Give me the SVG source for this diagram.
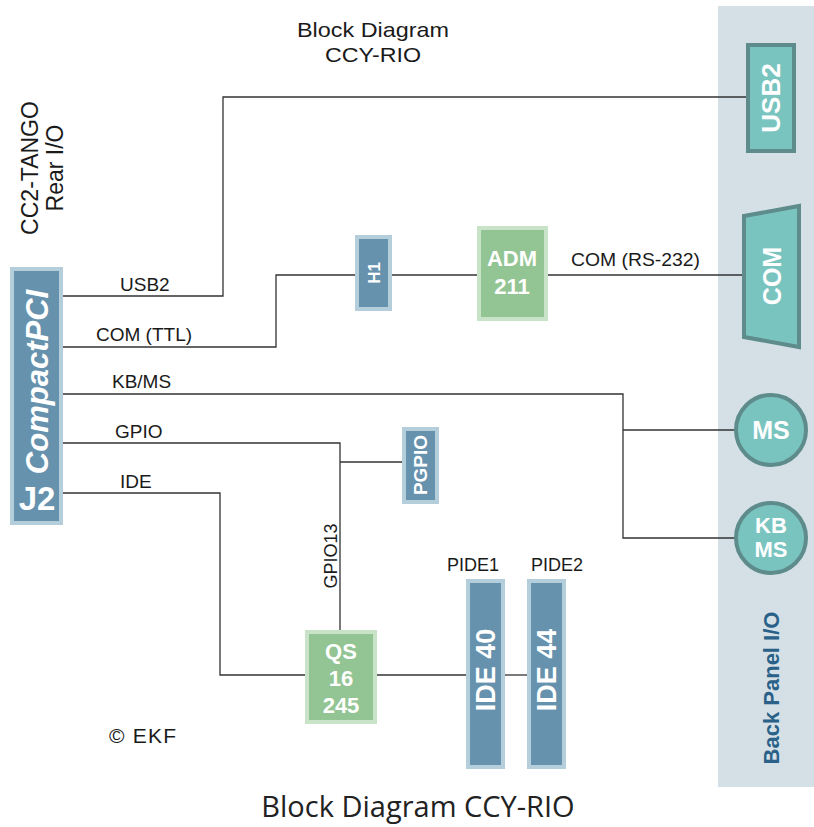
<svg xmlns="http://www.w3.org/2000/svg" width="814" height="827" viewBox="0 0 814 827">
<style>
.ln{fill:none;stroke:#333;stroke-width:1.3}
.lbl{font-family:"Liberation Sans",Arial,sans-serif;font-size:19px;fill:#1a1a1a}
.nar{font-family:"Liberation Sans",Arial,sans-serif;fill:#1a1a1a}
.wb{font-family:"Liberation Sans",Arial,sans-serif;font-weight:bold;fill:#fff;text-anchor:middle}
.blue{fill:#6692ae;stroke:#b4cedb;stroke-width:4}
.green{fill:#93c493;stroke:#c9e3c9;stroke-width:4}
.teal{fill:#7ac4c0;stroke:#5e8b8b;stroke-width:4}
</style>
<rect x="718" y="6" width="96" height="781" fill="#d4e0e5"/>
<g id="titles">
<text class="nar" x="373" y="37" font-size="21" text-anchor="middle" textLength="152" lengthAdjust="spacingAndGlyphs">Block Diagram</text>
<text class="nar" x="373" y="62" font-size="21" text-anchor="middle" textLength="96" lengthAdjust="spacingAndGlyphs">CCY-RIO</text>
<text class="nar" font-size="23" text-anchor="middle" transform="translate(38,168) rotate(-90)">CC2-TANGO</text>
<text class="nar" font-size="23" text-anchor="middle" transform="translate(63,168) rotate(-90)">Rear I/O</text>
<text x="418" y="817" font-family="'Open Sans',sans-serif" font-size="29" fill="#222" text-anchor="middle">Block Diagram CCY-RIO</text>
<text class="nar" x="109" y="743" font-size="21" textLength="67" lengthAdjust="spacing">© EKF</text>
<text font-family="'Liberation Sans',Arial,sans-serif" font-weight="bold" font-size="22" fill="#2a6189" text-anchor="middle" transform="translate(779,688) rotate(-90)">Back Panel I/O</text>
</g>
<g id="connectors">
<polyline class="ln" points="63,296 223,296 223,97 747,97"/>
<polyline class="ln" points="63,347 276,347 276,275 356,275"/>
<line class="ln" x1="391" y1="275" x2="478" y2="275"/>
<line class="ln" x1="547" y1="275" x2="743" y2="275"/>
<polyline class="ln" points="63,394 623,394 623,538 736,538"/>
<line class="ln" x1="623" y1="430" x2="736" y2="430"/>
<polyline class="ln" points="63,443 340,443 340,631"/>
<line class="ln" x1="340" y1="462" x2="403" y2="462"/>
<polyline class="ln" points="63,493 220,493 220,675 306,675"/>
<line class="ln" x1="376" y1="675" x2="467" y2="675"/>
<line class="ln" x1="504" y1="675" x2="528" y2="675"/>
<text class="lbl" x="120" y="291">USB2</text>
<text class="lbl" x="96" y="341">COM (TTL)</text>
<text class="lbl" x="112" y="388">KB/MS</text>
<text class="lbl" x="115" y="438">GPIO</text>
<text class="lbl" x="120" y="488">IDE</text>
<text class="nar" x="571" y="266" font-size="19" textLength="129" lengthAdjust="spacingAndGlyphs">COM (RS-232)</text>
<text class="nar" font-size="18" text-anchor="middle" transform="translate(337,556) rotate(-90)">GPIO13</text>
<text class="nar" x="473" y="571" font-size="18" text-anchor="middle">PIDE1</text>
<text class="nar" x="557" y="571" font-size="18" text-anchor="middle">PIDE2</text>
</g>
<g id="j2">
<rect class="blue" x="12" y="269" width="49" height="254"/>
<text class="wb" font-size="31" font-style="italic" transform="translate(48,382) rotate(-90)">CompactPCI</text>
<text class="wb" x="37" y="510" font-size="33">J2</text>
</g>
<g id="h1">
<rect class="blue" x="357" y="237" width="33" height="72"/>
<text class="wb" font-size="17" transform="translate(380,273) rotate(-90)">H1</text>
</g>
<g id="adm">
<rect class="green" x="479" y="228" width="67" height="91"/>
<text class="wb" x="512" y="266" font-size="22">ADM</text>
<text class="wb" x="512" y="294" font-size="22">211</text>
</g>
<g id="pgpio">
<rect class="blue" x="404" y="429" width="33" height="73"/>
<text class="wb" font-size="19" transform="translate(427,465) rotate(-90)">PGPIO</text>
</g>
<g id="qs">
<rect class="green" x="307" y="632" width="68" height="90"/>
<text class="wb" x="341" y="659" font-size="22">QS</text>
<text class="wb" x="341" y="686" font-size="22">16</text>
<text class="wb" x="341" y="713" font-size="22">245</text>
</g>
<g id="ide40">
<rect class="blue" x="468" y="581" width="35" height="186"/>
<text class="wb" font-size="27" transform="translate(495,670) rotate(-90)">IDE 40</text>
</g>
<g id="ide44">
<rect class="blue" x="529" y="581" width="35" height="186"/>
<text class="wb" font-size="27" transform="translate(556,670) rotate(-90)">IDE 44</text>
</g>
<g id="usb2">
<rect class="teal" x="748" y="45" width="46" height="106" stroke-width="3.5"/>
<text class="wb" font-size="26" transform="translate(780,98) rotate(-90)">USB2</text>
</g>
<g id="com">
<polygon class="teal" points="744,216 799,206 799,347 744,337"/>
<text class="wb" font-size="25" transform="translate(781,276) rotate(-90)">COM</text>
</g>
<g id="ms">
<circle class="teal" cx="771" cy="430" r="35"/>
<text class="wb" x="771" y="439" font-size="25">MS</text>
</g>
<g id="kbms">
<circle class="teal" cx="771" cy="538" r="35"/>
<text class="wb" x="771" y="533" font-size="22">KB</text>
<text class="wb" x="771" y="557" font-size="22">MS</text>
</g>
</svg>
